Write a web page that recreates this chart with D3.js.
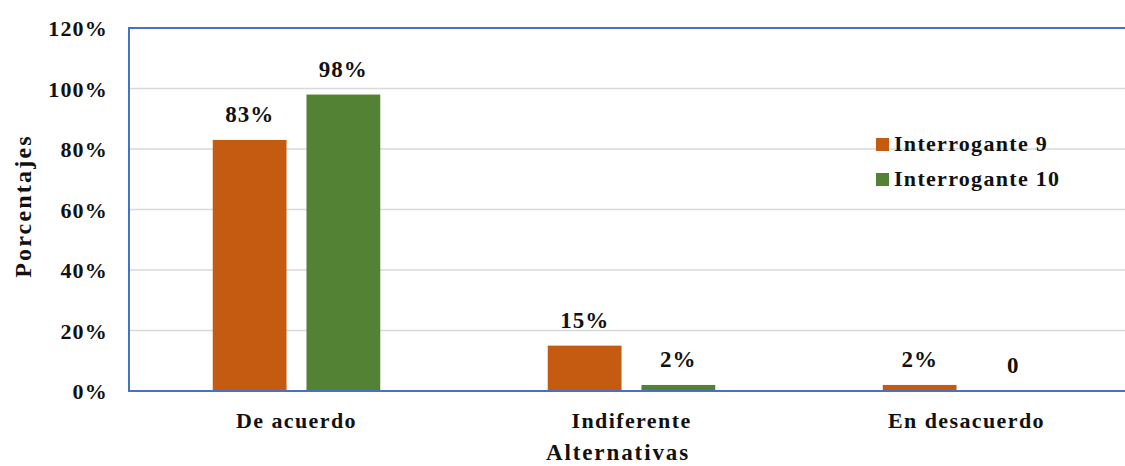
<!DOCTYPE html>
<html>
<head>
<meta charset="utf-8">
<script src="https://cdn.jsdelivr.net/npm/d3@7"></script>
<style>
  body { margin: 0; background: #fff; }
</style>
</head>
<body>
<svg width="1125" height="466"></svg>
<script>
'use strict';

const categories = ['De acuerdo', 'Indiferente', 'En desacuerdo'];
const series_names = ['Interrogante 9', 'Interrogante 10'];
const values_q9 = [0.83, 0.15, 0.02];
const values_q10 = [0.98, 0.02, 0];
const labels_q9 = ['83%', '15%', '2%'];
const labels_q10 = ['98%', '2%', '0'];
const y_ticks = [0, 0.2, 0.4, 0.6, 0.8, 1.0, 1.2];

const colors = { 'Interrogante 9': '#C55A11', 'Interrogante 10': '#548235' };

const svg = d3.select('svg')
  .attr('font-family', "'Liberation Serif', 'DejaVu Serif', serif")
  .attr('font-weight', 'bold')
  .attr('fill', '#111');

// plot area (right side is cut off in the original)
const plot_left = 129, plot_right = 1134, plot_top = 28, plot_bottom = 391;

const x0 = d3.scaleBand().domain(categories).range([plot_left, plot_right])
  .paddingInner(0.5).paddingOuter(0.25);
const x1 = d3.scaleBand().domain(series_names).range([0, x0.bandwidth()])
  .paddingInner(0.213);
const y = d3.scaleLinear().domain([0, 1.2]).range([plot_bottom, plot_top]);

// gridlines
svg.append('g').selectAll('line').data(y_ticks.filter(t => t > 0 && t < 1.2)).join('line')
  .attr('x1', plot_left).attr('x2', 1125)
  .attr('y1', d => y(d)).attr('y2', d => y(d))
  .attr('stroke', '#D9D9D9').attr('stroke-width', 1.5);

// y tick labels
svg.append('g').selectAll('text').data(y_ticks).join('text')
  .attr('x', 108).attr('y', d => y(d) + 8)
  .attr('text-anchor', 'end')
  .attr('font-size', 22)
  .attr('letter-spacing', 1.2)
  .text(d => d3.format('.0%')(d));

// data table for bars
const rows = categories.map((c, i) => ({
  cat: c,
  bars: [
    { name: series_names[0], value: values_q9[i], label: labels_q9[i] },
    { name: series_names[1], value: values_q10[i], label: labels_q10[i] }
  ]
}));

const groups = svg.append('g').selectAll('g').data(rows).join('g')
  .attr('transform', d => `translate(${x0(d.cat)},0)`);

groups.selectAll('rect').data(d => d.bars).join('rect')
  .attr('x', d => x1(d.name))
  .attr('width', x1.bandwidth())
  .attr('y', d => y(d.value))
  .attr('height', d => plot_bottom - y(d.value))
  .attr('fill', d => colors[d.name]);

groups.selectAll('text').data(d => d.bars).join('text')
  .attr('x', d => x1(d.name) + x1.bandwidth() / 2)
  .attr('y', d => y(d.value) - 18)
  .attr('text-anchor', 'middle')
  .attr('font-size', 23)
  .attr('letter-spacing', 1)
  .text(d => d.label);

// plot border (blue): top, left, bottom
svg.append('path')
  .attr('d', `M1125,${plot_top} H${plot_left} V${plot_bottom} H1125`)
  .attr('fill', 'none').attr('stroke', '#4472C4').attr('stroke-width', 2);

// category labels
svg.append('g').selectAll('text').data(categories).join('text')
  .attr('x', d => x0(d) + x0.bandwidth() / 2)
  .attr('y', 428)
  .attr('text-anchor', 'middle')
  .attr('font-size', 22)
  .attr('letter-spacing', 1.4)
  .text(d => d);

// axis titles
svg.append('text')
  .attr('x', 618).attr('y', 460)
  .attr('text-anchor', 'middle')
  .attr('font-size', 23)
  .attr('letter-spacing', 1.9)
  .text('Alternativas');

svg.append('text')
  .attr('transform', 'translate(31,206) rotate(-90)')
  .attr('text-anchor', 'middle')
  .attr('font-size', 24)
  .attr('letter-spacing', 2.2)
  .text('Porcentajes');

// legend
const legend = svg.append('g').selectAll('g').data(series_names).join('g')
  .attr('transform', (d, i) => `translate(876,${144 + i * 35})`);
legend.append('rect')
  .attr('x', 0).attr('y', -6).attr('width', 13).attr('height', 13)
  .attr('fill', d => colors[d]);
legend.append('text')
  .attr('x', 18).attr('y', 7)
  .attr('font-size', 22)
  .attr('letter-spacing', 1.3)
  .text(d => d);
</script>
</body>
</html>
